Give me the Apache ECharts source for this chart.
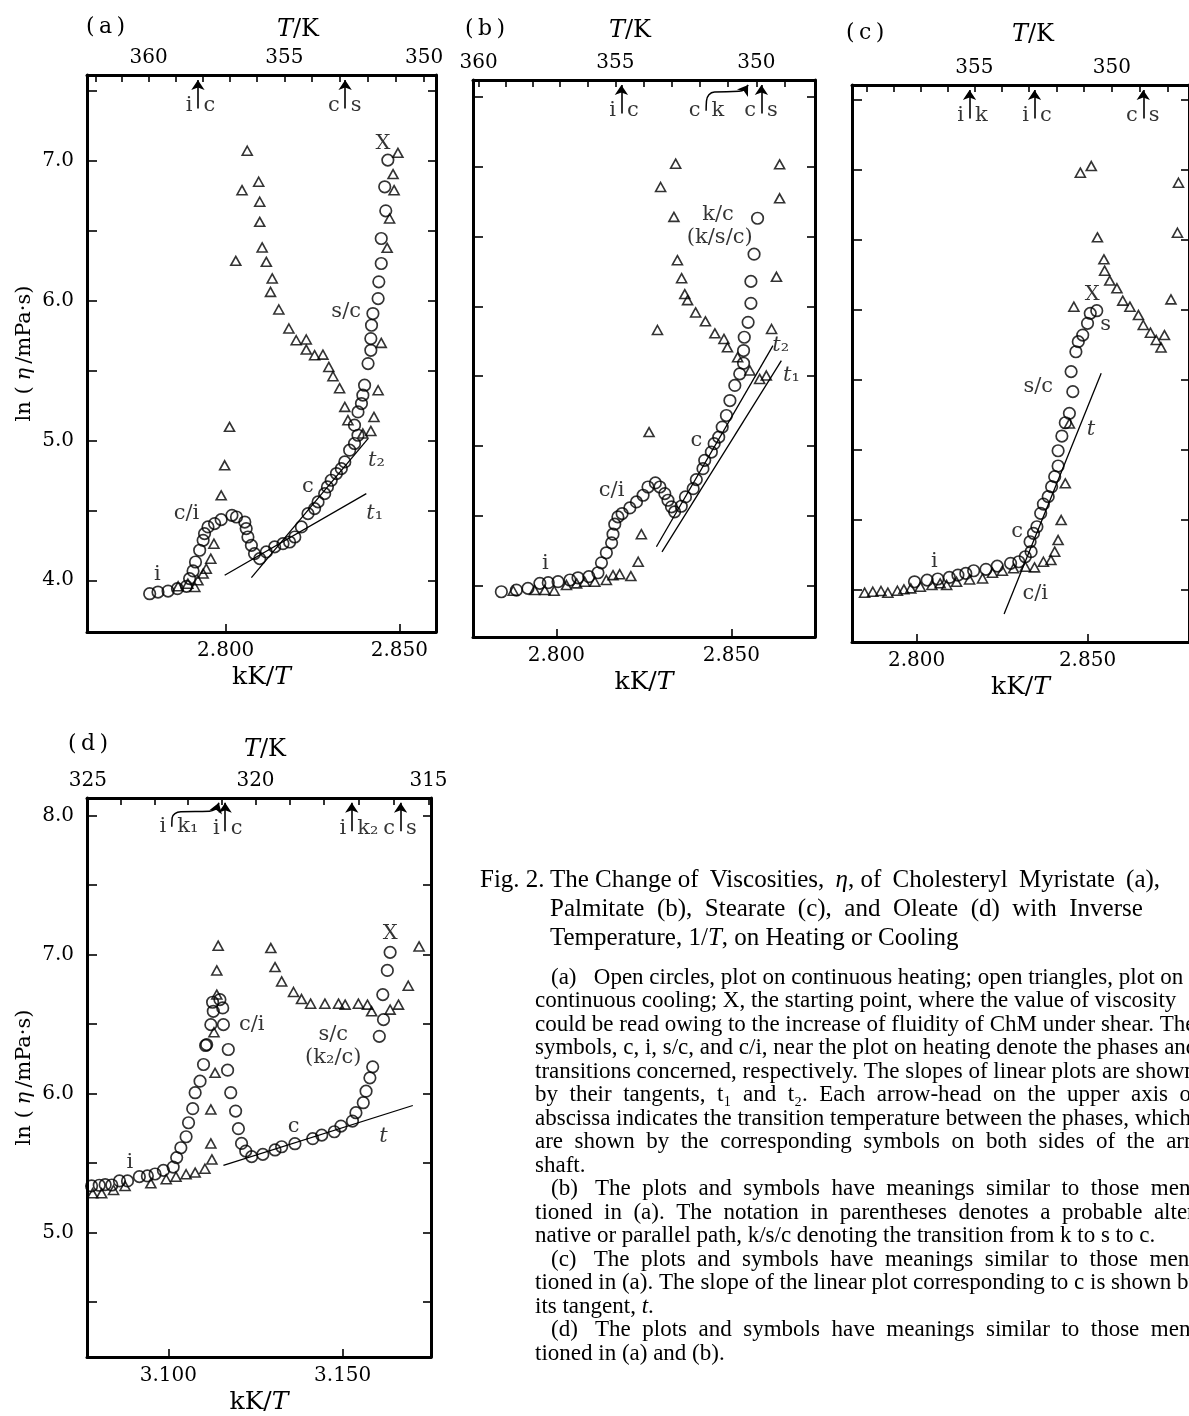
<!DOCTYPE html>
<html>
<head>
<meta charset="utf-8">
<title>Fig. 2 viscosity of cholesteryl esters</title>
<script src="https://cdn.jsdelivr.net/npm/echarts@6.0.0/dist/echarts.min.js"></script>
<style>
  html, body { margin: 0; padding: 0; background: #fff; }
  #main { width: 1189px; height: 1416px; }
</style>
</head>
<body>
<div id="main"></div>
<script>
// ---- data (x = kK/T, y = ln(eta/mPa s)) ----
// (a) myristate
const aHeating = [[2.7781,3.904],[2.7805,3.916],[2.7834,3.923],[2.7861,3.940],[2.7887,3.957],[2.7896,4.012],[2.7906,4.067],[2.7913,4.131],[2.7925,4.215],[2.7935,4.286],[2.7939,4.334],[2.7949,4.382],[2.7968,4.406],[2.7987,4.434],[2.8018,4.465],[2.8031,4.453],[2.8055,4.417],[2.8059,4.370],[2.8064,4.310],[2.8074,4.250],[2.8083,4.191],[2.8098,4.155],[2.8117,4.203],[2.8141,4.239],[2.8165,4.262],[2.8184,4.274],[2.8199,4.310],[2.8218,4.382],[2.8237,4.477],[2.8256,4.513],[2.8266,4.561],[2.8285,4.620],[2.8293,4.668],[2.8304,4.716],[2.8319,4.764],[2.8333,4.799],[2.8343,4.847],[2.8357,4.931],[2.8371,4.979],[2.8381,5.038],[2.8371,5.110],[2.8381,5.205],[2.8391,5.265],[2.8395,5.325],[2.8400,5.396],[2.8410,5.551],[2.8418,5.646],[2.8418,5.730],[2.8420,5.825],[2.8424,5.909],[2.8439,6.016],[2.8441,6.136],[2.8448,6.267],[2.8448,6.446],[2.8461,6.644],[2.8458,6.816],[2.8467,7.007]];
const aCooling = [[2.7863,3.957],[2.7891,3.976],[2.7911,3.952],[2.7920,4.000],[2.7935,4.048],[2.7944,4.083],[2.7957,4.155],[2.7966,4.262],[2.7987,4.608],[2.7997,4.823],[2.8011,5.098],[2.8029,6.286],[2.8047,6.792],[2.8062,7.074],[2.8095,6.852],[2.8098,6.709],[2.8098,6.565],[2.8105,6.382],[2.8117,6.279],[2.8134,6.160],[2.8129,6.064],[2.8153,5.938],[2.8182,5.802],[2.8203,5.718],[2.8232,5.723],[2.8232,5.651],[2.8256,5.611],[2.8280,5.615],[2.8297,5.527],[2.8309,5.460],[2.8328,5.375],[2.8343,5.241],[2.8352,5.146],[2.8395,5.050],[2.8418,5.069],[2.8427,5.169],[2.8439,5.360],[2.8448,5.699],[2.8465,6.379],[2.8472,6.589],[2.8485,6.792],[2.8482,6.907],[2.8496,7.059]];
const aTangents = [[[2.7997,4.036],[2.8405,4.620]], [[2.8074,4.019],[2.8410,5.014]]];
const aArrowX = [2.7920, 2.8344];
const aArrowLeft = ['i', 'c'];
const aArrowRight = ['c', 's'];
const aNotes = [[2.7803,4.043,'i'],[2.7887,4.477,'c/i'],[2.8237,4.668,'c'],[2.8429,4.477,'{i|t}₁'],[2.8434,4.859,'{i|t}₂'],[2.8347,5.921,'s/c'],[2.8453,7.126,'X']];

// (b) palmitate
const bHeating = [[2.7843,3.957],[2.7886,3.969],[2.7919,3.981],[2.7953,4.017],[2.7977,4.022],[2.8005,4.029],[2.8039,4.041],[2.8062,4.057],[2.8093,4.065],[2.8119,4.093],[2.8129,4.164],[2.8143,4.236],[2.8158,4.307],[2.8162,4.369],[2.8167,4.441],[2.8176,4.493],[2.8188,4.517],[2.8210,4.557],[2.8229,4.600],[2.8248,4.648],[2.8262,4.707],[2.8283,4.736],[2.8296,4.707],[2.8310,4.660],[2.8319,4.612],[2.8329,4.565],[2.8338,4.529],[2.8357,4.569],[2.8369,4.636],[2.8391,4.695],[2.8400,4.760],[2.8419,4.838],[2.8424,4.898],[2.8443,4.957],[2.8451,5.017],[2.8464,5.064],[2.8474,5.136],[2.8486,5.219],[2.8496,5.326],[2.8510,5.434],[2.8524,5.517],[2.8535,5.593],[2.8535,5.684],[2.8537,5.779],[2.8548,5.886],[2.8556,6.022],[2.8556,6.179],[2.8565,6.374],[2.8575,6.631]];
const bCooling = [[2.7877,3.964],[2.7938,3.969],[2.7967,3.969],[2.7994,3.964],[2.8029,4.005],[2.8058,4.017],[2.8081,4.029],[2.8110,4.029],[2.8143,4.041],[2.8162,4.076],[2.8181,4.083],[2.8213,4.069],[2.8234,4.172],[2.8243,4.369],[2.8265,5.100],[2.8289,5.831],[2.8298,6.855],[2.8341,7.022],[2.8336,6.641],[2.8346,6.331],[2.8358,6.202],[2.8367,6.088],[2.8375,6.045],[2.8398,5.957],[2.8426,5.893],[2.8453,5.807],[2.8479,5.767],[2.8489,5.707],[2.8518,5.636],[2.8553,5.541],[2.8581,5.481],[2.8600,5.505],[2.8615,5.838],[2.8629,6.212],[2.8638,6.774],[2.8638,7.017]];
const bTangents = [[[2.8286,4.279],[2.8619,5.719]], [[2.8302,4.243],[2.8643,5.612]]];
const bArrowX = [2.8186, 2.8586];
const bArrowLeft = ['i', 'c'];
const bArrowRight = ['c', 's'];
const bCurve = [[2.8428,7.40],[2.8429,7.47],[2.8436,7.515],[2.8452,7.535],[2.8522,7.54],[2.8538,7.552],[2.8545,7.575]];
const bCurveLeft = 'c';
const bCurveRight = 'k';
const bNotes = [[2.7969,4.160,'i'],[2.8158,4.685,'c/i'],[2.8400,5.043,'c'],[2.8462,6.660,'k/c'],[2.8467,6.493,'(k/s/c)'],[2.8641,5.720,'{i|t}₂'],[2.8672,5.505,'{i|t}₁']];

// (c) stearate
const cHeating = [[2.7994,4.054],[2.8031,4.066],[2.8062,4.074],[2.8096,4.085],[2.8121,4.102],[2.8144,4.114],[2.8167,4.133],[2.8203,4.143],[2.8236,4.166],[2.8275,4.186],[2.8299,4.197],[2.8318,4.233],[2.8335,4.269],[2.8332,4.340],[2.8342,4.400],[2.8352,4.447],[2.8363,4.543],[2.8371,4.609],[2.8385,4.662],[2.8395,4.733],[2.8404,4.805],[2.8414,4.881],[2.8414,4.990],[2.8425,5.095],[2.8435,5.190],[2.8447,5.257],[2.8457,5.412],[2.8452,5.555],[2.8466,5.697],[2.8473,5.769],[2.8486,5.816],[2.8500,5.900],[2.8508,5.971],[2.8527,5.990]];
const cCooling = [[2.7848,3.976],[2.7872,3.983],[2.7896,3.988],[2.7916,3.976],[2.7944,3.990],[2.7963,4.000],[2.7983,4.007],[2.8011,4.019],[2.8045,4.031],[2.8069,4.043],[2.8088,4.031],[2.8117,4.054],[2.8155,4.071],[2.8193,4.078],[2.8222,4.119],[2.8251,4.133],[2.8284,4.150],[2.8318,4.162],[2.8345,4.157],[2.8371,4.197],[2.8393,4.209],[2.8404,4.269],[2.8414,4.352],[2.8423,4.495],[2.8435,4.757],[2.8447,5.185],[2.8460,6.019],[2.8479,6.976],[2.8511,7.023],[2.8529,6.514],[2.8548,6.357],[2.8550,6.276],[2.8565,6.205],[2.8586,6.150],[2.8603,6.062],[2.8624,6.019],[2.8649,5.959],[2.8663,5.888],[2.8684,5.833],[2.8701,5.781],[2.8725,5.816],[2.8715,5.728],[2.8744,6.071],[2.8763,6.547],[2.8766,6.904]];
const cTangents = [[[2.8256,3.824],[2.8540,5.543]]];
const cArrowX = [2.8155, 2.8345, 2.8663];
const cArrowLeft = ['i', 'i', 'c'];
const cArrowRight = ['k', 'c', 's'];
const cNotes = [[2.8052,4.197,'i'],[2.8294,4.412,'c'],[2.8347,3.971,'c/i'],[2.8356,5.447,'s/c'],[2.8510,5.138,'{i|t}'],[2.8514,6.102,'X'],[2.8553,5.888,'s']];

// (d) oleate
const dHeating = [[3.0780,5.335],[3.0802,5.340],[3.0819,5.344],[3.0838,5.342],[3.0860,5.371],[3.0883,5.371],[3.0917,5.402],[3.0940,5.407],[3.0962,5.421],[3.0986,5.447],[3.1014,5.471],[3.1024,5.539],[3.1036,5.610],[3.1051,5.689],[3.1058,5.790],[3.1070,5.891],[3.1077,6.006],[3.1091,6.089],[3.1101,6.209],[3.1107,6.346],[3.1110,6.352],[3.1122,6.496],[3.1127,6.657],[3.1129,6.592],[3.1148,6.676],[3.1156,6.616],[3.1158,6.496],[3.1172,6.317],[3.1170,6.168],[3.1179,6.006],[3.1193,5.874],[3.1201,5.747],[3.1210,5.641],[3.1222,5.586],[3.1239,5.546],[3.1271,5.562],[3.1306,5.594],[3.1325,5.617],[3.1363,5.639],[3.1414,5.675],[3.1440,5.701],[3.1476,5.725],[3.1495,5.766],[3.1528,5.802],[3.1538,5.862],[3.1559,5.934],[3.1567,6.017],[3.1578,6.113],[3.1586,6.192],[3.1605,6.412],[3.1617,6.532],[3.1615,6.712],[3.1628,6.886],[3.1636,7.016]];
const dCooling = [[3.0783,5.282],[3.0809,5.282],[3.0843,5.306],[3.0876,5.335],[3.0950,5.354],[3.0994,5.383],[3.1022,5.402],[3.1051,5.419],[3.1077,5.431],[3.1105,5.459],[3.1125,5.526],[3.1122,5.641],[3.1122,5.886],[3.1134,6.149],[3.1131,6.441],[3.1139,6.712],[3.1139,6.886],[3.1143,7.064],[3.1294,7.047],[3.1306,6.910],[3.1325,6.807],[3.1359,6.731],[3.1382,6.680],[3.1408,6.647],[3.1449,6.647],[3.1488,6.647],[3.1507,6.640],[3.1545,6.647],[3.1571,6.640],[3.1583,6.592],[3.1636,6.604],[3.1660,6.640],[3.1688,6.776],[3.1719,7.059]];
const dTangents = [[[3.1158,5.483],[3.1701,5.914]]];
const dArrowX = [3.1163, 3.1526, 3.1666];
const dArrowLeft = ['i', 'i', 'c'];
const dArrowRight = ['c', 'k₂', 's'];
const dCurve = [[3.1010,7.92],[3.1011,7.985],[3.1019,8.015],[3.1036,8.028],[3.1118,8.032],[3.1134,8.045],[3.1142,8.07]];
const dCurveLeft = 'i';
const dCurveRight = 'k₁';
const dNotes = [[3.0890,5.503,'i'],[3.1359,5.761,'c'],[3.1617,5.694,'{i|t}'],[3.1239,6.496,'c/i'],[3.1473,6.424,'s/c'],[3.1473,6.257,'(k₂/c)'],[3.1636,7.155,'X']];

// axis ticks and labels
const abcBottomTicks = [2.800, 2.850];
const dBottomTicks = [3.100, 3.150];
const abcYTicks = [4.0, 4.5, 5.0, 5.5, 6.0, 6.5, 7.0, 7.5];
const dYTicks = [4.5, 5.0, 5.5, 6.0, 6.5, 7.0, 7.5, 8.0];
const aYLabels = [4.0, 5.0, 6.0, 7.0];
const dYLabels = [5.0, 6.0, 7.0, 8.0];
const aTopTicksK = [362, 361, 360, 359, 358, 357, 356, 355, 354, 353, 352, 351, 350];
const bTopTicksK = [360, 359, 358, 357, 356, 355, 354, 353, 352, 351, 350, 349];
const cTopTicksK = [359, 358, 357, 356, 355, 354, 353, 352, 351, 350, 349, 348];
const dTopTicksK = [325, 324, 323, 322, 321, 320, 319, 318, 317, 316, 315];
const aTopLabelsK = [360, 355, 350];
const bTopLabelsK = [360, 355, 350];
const cTopLabelsK = [355, 350];
const dTopLabelsK = [325, 320, 315];

const FONT = 'DejaVu Serif';
const CAP_FONT = 'Liberation Serif';
const richStyles = {
  i: { fontStyle: 'italic', fontFamily: FONT, fontSize: 21, color: '#000' },
  n: { fontFamily: FONT, fontSize: 21, color: '#000' }
};

const grids = [], xAxes = [], yAxes = [], series = [], graphics = [];

function addPanel(p) {
  const gi = grids.length;
  const xi = xAxes.length, yi = yAxes.length;
  grids.push({ left: p.box[0], top: p.box[1], width: p.box[2], height: p.box[3] });
  const line = { onZero: false, lineStyle: { color: '#000', width: 3 } };
  const tick = { show: true, inside: true, length: 8, lineStyle: { color: '#000', width: 1.6 } };
  const lab = { fontFamily: FONT, fontSize: 20, color: '#000' };

  xAxes.push({
    type: 'value', gridIndex: gi, position: 'bottom', min: p.xRange[0], max: p.xRange[1],
    axisLine: line, splitLine: { show: false },
    axisTick: Object.assign({}, tick, { customValues: p.bottomTicks }),
    axisLabel: Object.assign({}, lab, { customValues: p.bottomTicks, margin: 9, formatter: v => v.toFixed(3) }),
    name: '{n|kK/}{i|T}', nameLocation: 'middle', nameGap: 33,
    nameTextStyle: { rich: { n: { fontFamily: FONT, fontSize: 25, color: '#000' }, i: { fontFamily: FONT, fontSize: 25, fontStyle: 'italic', color: '#000' } } }
  });
  xAxes.push({
    type: 'value', gridIndex: gi, position: 'top', min: p.xRange[0], max: p.xRange[1],
    axisLine: line, splitLine: { show: false },
    axisTick: Object.assign({}, tick, { length: 7, customValues: p.topTicksK.map(t => 1000 / t) }),
    axisLabel: Object.assign({}, lab, { customValues: p.topLabelsK.map(t => 1000 / t), margin: 7, formatter: v => String(Math.round(1000 / v)) })
  });

  const leftY = {
    type: 'value', gridIndex: gi, position: 'left', min: p.yRange[0], max: p.yRange[1],
    axisLine: line, splitLine: { show: false },
    axisTick: Object.assign({}, tick, { length: 10, customValues: p.yTicks }),
    axisLabel: p.yLabels.length
      ? Object.assign({}, lab, { customValues: p.yLabels, margin: 13, formatter: v => v.toFixed(1) })
      : { show: false }
  };
  if (p.yName) {
    leftY.name = '{n|ln (}{i|η}{n|/mPa·s)}';
    leftY.nameLocation = 'middle';
    leftY.nameRotate = 90;
    leftY.nameGap = 52;
    leftY.nameTextStyle = { rich: {
      n: { fontFamily: FONT, fontSize: 21, color: '#000', letterSpacing: 2 },
      i: { fontFamily: FONT, fontSize: 21, fontStyle: 'italic', color: '#000', padding: [0, 4, 0, 6] } } };
  }
  yAxes.push(leftY);
  yAxes.push({
    type: 'value', gridIndex: gi, position: 'right', min: p.yRange[0], max: p.yRange[1],
    axisLine: line, splitLine: { show: false },
    axisTick: Object.assign({}, tick, { customValues: p.yTicks }),
    axisLabel: { show: false }
  });

  const ax = { xAxisIndex: xi, yAxisIndex: yi };
  const topY = p.yRange[1];

  series.push(Object.assign({
    type: 'scatter', name: 'heating', data: p.heating, symbol: 'circle', symbolSize: 11.5,
    itemStyle: { color: 'rgba(0,0,0,0)', borderColor: '#000', borderWidth: 1.7 }, silent: true
  }, ax));
  series.push(Object.assign({
    type: 'scatter', name: 'cooling', data: p.cooling, symbol: 'triangle', symbolSize: [10, 9],
    itemStyle: { color: 'rgba(0,0,0,0)', borderColor: '#000', borderWidth: 1.6 }, silent: true
  }, ax));
  p.tangents.forEach(t => series.push(Object.assign({
    type: 'line', data: t, showSymbol: false, lineStyle: { color: '#000', width: 1.3 }, silent: true
  }, ax)));

  // transition arrows on the upper axis
  const arrows = p.arrowX.map(x => ({ coords: [[x, topY - 0.24], [x, topY - 0.035]] }));
  const letters = p.arrowX.map((x, k) => ({ value: [x, topY - 0.22], l: p.arrowLeft[k], r: p.arrowRight[k] }));
  if (p.curve) {
    const c = p.curve;
    series.push(Object.assign({
      type: 'line', data: c, smooth: 0.5, showSymbol: false, lineStyle: { color: '#000', width: 1.5 }, silent: true
    }, ax));
    const end = c[c.length - 1];
    arrows.push({ coords: [[end[0], end[1]], [end[0] + 0.0003, topY - 0.035]] });
    letters.push({ value: [c[0][0], c[0][1]], l: p.curveLeft, r: p.curveRight });
  }
  series.push(Object.assign({
    type: 'lines', coordinateSystem: 'cartesian2d', data: arrows,
    symbol: ['none', 'arrow'], symbolSize: 10,
    lineStyle: { color: '#000', width: 1.6, opacity: 1 }, itemStyle: { color: '#000' }, silent: true, z: 5
  }, ax));
  ['l', 'r'].forEach(side => series.push(Object.assign({
    type: 'scatter', data: letters, symbolSize: 1, itemStyle: { color: 'rgba(0,0,0,0)' }, silent: true,
    label: { show: true, position: side === 'l' ? 'left' : 'right', distance: 5,
      formatter: q => q.data[side], fontFamily: FONT, fontSize: 21, color: '#000' }
  }, ax)));

  // in-plot annotations
  series.push(Object.assign({
    type: 'scatter', data: p.notes.map(n => ({ value: [n[0], n[1]], name: n[2] })),
    symbolSize: 1, itemStyle: { color: 'rgba(0,0,0,0)' }, silent: true,
    label: { show: true, position: 'inside', formatter: q => q.name,
      fontFamily: FONT, fontSize: 21, color: '#000', rich: richStyles }
  }, ax));
}

addPanel({ box: [87, 75, 349, 557], xRange: [2.76005, 2.86057], yRange: [3.630, 7.616],
  bottomTicks: abcBottomTicks, topTicksK: aTopTicksK, topLabelsK: aTopLabelsK, yTicks: abcYTicks, yLabels: aYLabels, yName: true,
  heating: aHeating, cooling: aCooling, tangents: aTangents, arrowX: aArrowX, arrowLeft: aArrowLeft, arrowRight: aArrowRight, notes: aNotes });
addPanel({ box: [473, 80, 342, 557], xRange: [2.77620, 2.87391], yRange: [3.633, 7.621],
  bottomTicks: abcBottomTicks, topTicksK: bTopTicksK, topLabelsK: bTopLabelsK, yTicks: abcYTicks, yLabels: [],
  heating: bHeating, cooling: bCooling, tangents: bTangents, arrowX: bArrowX, arrowLeft: bArrowLeft, arrowRight: bArrowRight,
  curve: bCurve, curveLeft: bCurveLeft, curveRight: bCurveRight, notes: bNotes });
addPanel({ box: [852, 85, 343, 557], xRange: [2.78112, 2.87968], yRange: [3.624, 7.602],
  bottomTicks: abcBottomTicks, topTicksK: cTopTicksK, topLabelsK: cTopLabelsK, yTicks: abcYTicks, yLabels: [],
  heating: cHeating, cooling: cCooling, tangents: cTangents, arrowX: cArrowX, arrowLeft: cArrowLeft, arrowRight: cArrowRight, notes: cNotes });
addPanel({ box: [87, 798, 344, 560], xRange: [3.07669, 3.17532], yRange: [4.104, 8.127],
  bottomTicks: dBottomTicks, topTicksK: dTopTicksK, topLabelsK: dTopLabelsK, yTicks: dYTicks, yLabels: dYLabels, yName: true,
  heating: dHeating, cooling: dCooling, tangents: dTangents, arrowX: dArrowX, arrowLeft: dArrowLeft, arrowRight: dArrowRight,
  curve: dCurve, curveLeft: dCurveLeft, curveRight: dCurveRight, notes: dNotes });

// panel letters and upper-axis titles
function txt(x, y, text, size, align, family, rich) {
  graphics.push({ type: 'text', x: x, y: y, silent: true,
    style: { text: text, fill: '#000', font: size + 'px "' + (family || FONT) + '"',
      align: align || 'left', verticalAlign: 'middle', rich: rich } });
}
const tkRich = { i: { fontStyle: 'italic', fontFamily: FONT, fontSize: 24 }, n: { fontFamily: FONT, fontSize: 24 } };
[['(\u2009a\u2009)', 86, 27, '{i|T}{n|/K}', 298, 30],
 ['(\u2009b\u2009)', 465, 29, '{i|T}{n|/K}', 630, 31],
 ['(\u2009c\u2009)', 846, 33, '{i|T}{n|/K}', 1033, 35],
 ['(\u2009d\u2009)', 68, 744, '{i|T}{n|/K}', 265, 750]].forEach(r => {
  txt(r[1], r[2], r[0], 22);
  txt(r[4], r[5], r[3], 24, 'center', FONT, tkRich);
});

// caption
const capRich = {
  i: { fontStyle: 'italic', fontFamily: CAP_FONT, fontSize: 23 },
  h: { fontStyle: 'italic', fontFamily: CAP_FONT, fontSize: 25 }
};
const captionHead = [
  [480, 880, 'Fig. 2.'],
  [550, 880, 'The Change of \u2009Viscosities, \u2009{h|η}, of \u2009Cholesteryl \u2009Myristate \u2009(a),'],
  [550, 909, 'Palmitate  (b),  Stearate  (c),  and  Oleate  (d)  with  Inverse'],
  [550, 938, 'Temperature, 1/{h|T}, on Heating or Cooling']
];
const captionBody = [
  [551, '(a)   Open circles, plot on continuous heating; open triangles, plot on'],
  [535, 'continuous cooling; X, the starting point, where the value of viscosity'],
  [535, 'could be read owing to the increase of fluidity of ChM under shear. The'],
  [535, 'symbols, c, i, s/c, and c/i, near the plot on heating denote the phases and'],
  [535, 'transitions concerned, respectively. The slopes of linear plots are shown'],
  [535, 'by  their  tangents,  t₁  and  t₂.  Each  arrow-head  on  the  upper  axis  of'],
  [535, 'abscissa indicates the transition temperature between the phases, which'],
  [535, 'are  shown  by  the  corresponding  symbols  on  both  sides  of  the  arrow'],
  [535, 'shaft.'],
  [551, '(b)   The  plots  and  symbols  have  meanings  similar  to  those  men-'],
  [535, 'tioned  in  (a).  The  notation  in  parentheses  denotes  a  probable  alter-'],
  [535, 'native or parallel path, k/s/c denoting the transition from k to s to c.'],
  [551, '(c)   The  plots  and  symbols  have  meanings  similar  to  those  men-'],
  [535, 'tioned in (a). The slope of the linear plot corresponding to c is shown by'],
  [535, 'its tangent, {i|t}.'],
  [551, '(d)   The  plots  and  symbols  have  meanings  similar  to  those  men-'],
  [535, 'tioned in (a) and (b).']
];
captionHead.forEach(h => txt(h[0], h[1], h[2], 25, 'left', CAP_FONT, capRich));
captionBody.forEach((b, k) => txt(b[0], 977.5 + k * 23.5, b[1], 23, 'left', CAP_FONT, capRich));

const chart = echarts.init(document.getElementById('main'), null, { renderer: 'canvas', width: 1189, height: 1416 });
chart.setOption({
  animation: false,
  backgroundColor: '#fff',
  grid: grids,
  xAxis: xAxes,
  yAxis: yAxes,
  series: series,
  graphic: graphics
});
</script>
</body>
</html>
